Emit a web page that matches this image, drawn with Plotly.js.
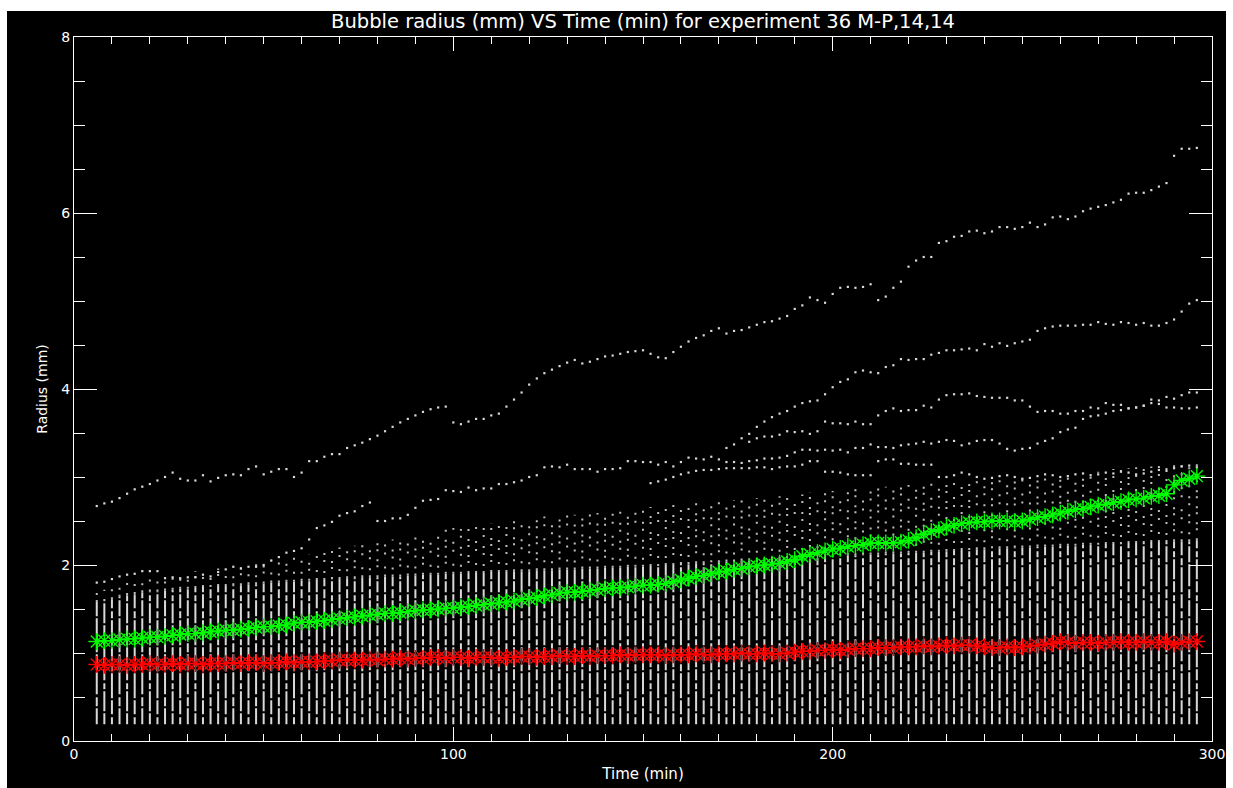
<!DOCTYPE html>
<html>
<head>
<meta charset="utf-8">
<script src="https://cdn.plot.ly/plotly-3.0.1.min.js"></script>
<style>
html,body{margin:0;padding:0;background:#ffffff;width:1233px;height:788px;overflow:hidden}
#chart{position:absolute;left:7px;top:11px;width:1219px;height:777px;background:#000}
</style>
</head>
<body>
<div id="chart"></div>
<script>
// ---- data ----
const times = [6,8,10,12,14,16,18,20,22,24,26,28,30,32,34,36,38,40,42,44,46,48,50,52,54,56,58,60,62,64,66,68,70,72,74,76,78,80,82,84,86,88,90,92,94,96,98,100,102,104,106,108,110,112,114,116,118,120,122,124,126,128,130,132,134,136,138,140,142,144,146,148,150,152,154,156,158,160,162,164,166,168,170,172,174,176,178,180,182,184,186,188,190,192,194,196,198,200,202,204,206,208,210,212,214,216,218,220,222,224,226,228,230,232,234,236,238,240,242,244,246,248,250,252,254,256,258,260,262,264,266,268,270,272,274,276,278,280,282,284,286,288,290,292,294,296];

const meanRadius = [
1.13,1.14,1.14,1.15,1.16,1.16,1.17,1.18,1.18,1.19,
1.20,1.21,1.22,1.22,1.23,1.24,1.25,1.26,1.26,1.27,
1.28,1.29,1.30,1.30,1.31,1.32,1.34,1.35,1.35,1.36,
1.37,1.38,1.39,1.40,1.41,1.42,1.43,1.44,1.45,1.45,
1.46,1.47,1.48,1.49,1.49,1.50,1.51,1.51,1.52,1.53,
1.54,1.55,1.56,1.57,1.58,1.59,1.61,1.62,1.63,1.65,
1.66,1.68,1.69,1.69,1.70,1.71,1.72,1.73,1.74,1.74,
1.75,1.76,1.77,1.77,1.78,1.79,1.81,1.83,1.85,1.87,
1.88,1.90,1.92,1.93,1.95,1.96,1.98,1.99,2.00,2.01,
2.02,2.04,2.06,2.10,2.12,2.14,2.16,2.18,2.19,2.21,
2.22,2.23,2.25,2.25,2.25,2.25,2.26,2.28,2.31,2.35,
2.38,2.40,2.43,2.45,2.47,2.48,2.49,2.49,2.50,2.50,
2.50,2.49,2.50,2.52,2.54,2.55,2.57,2.59,2.61,2.63,
2.64,2.66,2.68,2.69,2.71,2.72,2.74,2.75,2.76,2.78,
2.79,2.81,2.91,2.96,2.98,3.01];

const medianRadius = [
0.87,0.86,0.87,0.87,0.86,0.87,0.87,0.88,0.87,0.87,
0.88,0.87,0.88,0.88,0.87,0.88,0.88,0.88,0.89,0.88,
0.89,0.89,0.88,0.89,0.89,0.90,0.89,0.90,0.90,0.90,
0.91,0.91,0.92,0.92,0.92,0.92,0.93,0.92,0.93,0.93,
0.94,0.93,0.94,0.94,0.95,0.95,0.94,0.95,0.95,0.94,
0.95,0.95,0.95,0.94,0.95,0.95,0.96,0.96,0.95,0.96,
0.96,0.97,0.96,0.96,0.97,0.96,0.97,0.97,0.97,0.98,
0.97,0.98,0.98,0.98,0.98,0.97,0.98,0.98,0.98,0.99,
0.98,0.98,0.99,0.99,0.99,1.00,0.99,0.99,1.00,0.99,
0.99,1.00,1.01,1.02,1.02,1.03,1.03,1.04,1.03,1.04,
1.05,1.05,1.05,1.06,1.06,1.06,1.07,1.07,1.07,1.08,
1.07,1.08,1.09,1.08,1.09,1.09,1.08,1.07,1.06,1.06,
1.07,1.06,1.07,1.08,1.09,1.10,1.11,1.13,1.12,1.11,
1.12,1.12,1.11,1.12,1.12,1.13,1.12,1.12,1.13,1.12,
1.12,1.13,1.10,1.12,1.13,1.13];

// lowest measured radius in every time column
const columnFloor = 0.19;
// top of the dense part of each column
const columnTop = [
1.58,1.59,1.61,1.64,1.66,1.67,1.69,1.70,1.70,1.71,
1.72,1.73,1.73,1.74,1.75,1.75,1.76,1.76,1.77,1.77,
1.78,1.78,1.79,1.80,1.80,1.81,1.81,1.82,1.82,1.83,
1.83,1.84,1.84,1.85,1.85,1.86,1.86,1.86,1.87,1.87,
1.87,1.88,1.88,1.89,1.89,1.89,1.90,1.90,1.90,1.91,
1.91,1.91,1.92,1.92,1.92,1.93,1.93,1.93,1.94,1.94,
1.94,1.95,1.95,1.95,1.96,1.96,1.96,1.97,1.97,1.97,
1.98,1.98,1.98,1.99,1.99,2.00,2.00,2.01,2.01,2.02,
2.02,2.03,2.03,2.04,2.04,2.05,2.05,2.06,2.06,2.07,
2.07,2.08,2.08,2.09,2.09,2.10,2.10,2.10,2.11,2.11,
2.11,2.12,2.12,2.12,2.13,2.13,2.13,2.14,2.14,2.14,
2.15,2.15,2.16,2.16,2.17,2.17,2.18,2.18,2.19,2.19,
2.19,2.20,2.20,2.20,2.21,2.21,2.21,2.22,2.22,2.22,
2.23,2.23,2.23,2.24,2.24,2.24,2.25,2.25,2.25,2.26,
2.26,2.26,2.27,2.27,2.27,2.28];
// upper end of the sparse dots above each column
const columnSparseTop = [
1.70,1.72,1.74,1.78,1.80,1.84,1.83,1.86,1.88,1.87,
1.90,1.92,1.91,1.93,1.95,1.94,1.96,1.98,1.97,2.00,
2.02,2.01,2.04,2.06,2.05,2.08,2.10,2.09,2.12,2.15,
2.14,2.17,2.20,2.18,2.22,2.25,2.24,2.27,2.30,2.29,
2.32,2.34,2.33,2.36,2.38,2.37,2.40,2.42,2.41,2.44,
2.45,2.44,2.47,2.49,2.48,2.50,2.52,2.51,2.53,2.55,
2.54,2.56,2.58,2.57,2.59,2.60,2.59,2.61,2.63,2.62,
2.64,2.65,2.64,2.66,2.68,2.67,2.69,2.70,2.69,2.71,
2.72,2.71,2.73,2.75,2.74,2.76,2.77,2.76,2.78,2.79,
2.78,2.80,2.81,2.80,2.82,2.83,2.82,2.84,2.85,2.84,
2.86,2.87,2.86,2.88,2.89,2.88,2.90,2.91,2.90,2.92,
2.93,2.92,2.94,2.95,2.94,2.96,2.97,2.96,2.98,2.99,
2.98,3.00,3.01,3.00,3.02,3.03,3.02,3.04,3.05,3.04,
3.06,3.07,3.06,3.08,3.09,3.08,3.10,3.11,3.10,3.12,
3.13,3.12,3.14,3.15,3.14,3.16];

// individual large bubbles (tracks of dots), first time of each track given
const trackAStart = 6;
const trackA = [
2.67,2.70,2.72,2.76,2.81,2.86,2.89,2.92,2.96,3.00,
3.05,2.98,2.96,2.96,3.02,2.95,2.99,3.02,3.03,3.02,
3.09,3.12,3.03,3.06,3.09,3.09,3.00,3.05,3.18,3.18,
3.23,3.26,3.26,3.33,3.36,3.39,3.43,3.47,3.52,3.57,
3.62,3.66,3.70,3.74,3.77,3.79,3.80,3.62,3.60,3.63,
3.66,3.66,3.70,3.72,3.80,3.88,3.96,4.05,4.12,4.18,
4.22,4.26,4.30,4.33,4.29,4.31,4.34,4.37,4.38,4.40,
4.42,4.43,4.44,4.40,4.36,4.35,4.42,4.48,4.54,4.58,
4.61,4.66,4.69,4.63,4.66,4.67,4.70,4.73,4.76,4.77,
4.80,4.83,4.91,4.95,5.04,5.01,4.98,5.08,5.15,5.16,
5.15,5.16,5.19,5.01,5.05,5.15,5.22,5.39,5.46,5.50,
5.50,5.66,5.68,5.73,5.74,5.79,5.80,5.77,5.79,5.84,
5.84,5.82,5.84,5.89,5.84,5.87,5.95,5.96,5.93,5.96,
6.02,6.05,6.07,6.09,6.12,6.15,6.22,6.23,6.23,6.26,
6.30,6.34,6.65,6.73,6.73,6.74];
const trackB0Start = 6;
const trackB0 = [
1.80,1.81,1.84,1.87,1.89,1.90,1.93,1.93,1.93,1.85,
1.86,1.85,1.86,1.86,1.89,1.87,1.92,1.95,1.98,1.96,
1.98,1.98,2.00,2.05,2.09,2.14,2.16,2.19,2.29,2.42,
2.45,2.49,2.56,2.59,2.61,2.67,2.71];
const trackDStart = 80;
const trackD = [
2.50,2.50,2.53,2.53,2.57,2.65,2.73,2.74,2.75,2.85,
2.84,2.83,2.88,2.85,2.87,2.87,2.92,2.92,2.94,2.96,
3.00,3.02,3.11,3.12,3.11,3.14,3.09,3.09,3.09,3.06,
3.09,3.09,3.10,3.18,3.18,3.17,3.17,3.14,3.17,3.12,
3.17,3.22,3.21,3.20,3.23,3.20,3.17,3.17,3.16,3.18,
3.19,3.21,3.21,3.22,3.24,3.28,3.31,3.31,3.30,3.31,
3.30,3.31,3.28,3.33,3.33,3.37,3.34,3.34,3.33,3.36,
3.37,3.38,3.40,3.38,3.40,3.42,3.41,3.36,3.38,3.41,
3.42,3.42,3.38,3.32,3.30,3.32,3.33,3.38,3.41,3.44,
3.51,3.54,3.56,3.66,3.69,3.70,3.72,3.75,3.76,3.78,
3.79,3.81,3.88,3.87,3.91,3.89,3.93,3.96,3.96];
const trackBStart = 172;
const trackB = [
3.33,3.37,3.44,3.49,3.57,3.63,3.68,3.72,3.75,3.80,
3.84,3.86,3.87,3.94,4.02,4.08,4.11,4.19,4.21,4.19,
4.18,4.25,4.27,4.34,4.33,4.34,4.34,4.39,4.41,4.44,
4.44,4.45,4.46,4.44,4.51,4.48,4.52,4.49,4.52,4.54,
4.56,4.66,4.69,4.71,4.72,4.72,4.72,4.73,4.73,4.76,
4.74,4.73,4.76,4.75,4.73,4.75,4.72,4.72,4.75,4.79,
4.88,4.97,5.01];
const trackCStart = 178;
const trackC = [
3.40,3.44,3.46,3.46,3.48,3.52,3.51,
3.52,3.49,3.52,3.63,3.61,3.61,3.60,3.63,3.60,3.60,
3.70,3.75,3.78,3.75,3.76,3.76,3.81,3.79,3.88,3.93,
3.94,3.94,3.95,3.92,3.91,3.90,3.90,3.90,3.87,3.87,
3.80,3.74,3.75,3.75,3.72,3.72,3.75,3.75,3.79,3.78,
3.84,3.82,3.82,3.78,3.79,3.81,3.84,3.83,3.79,3.79,
3.78,3.78,3.79];
const trackEStart = 152;
const trackE = [
2.93,2.95,2.97,3.00,3.03,3.05,3.07,3.08,3.08,3.09,
3.10,3.10,3.10,3.10,3.11,3.11,3.09,3.11,3.12,3.12,
3.14,3.18,3.18,3.06,3.06,3.05,3.03,3.02,3.02,3.02,
3.18,3.20,3.20,3.15,3.15,3.14,3.14,3.14,3.00,3.00,
3.02,3.05,3.03,3.00];
const trackFStart = 240;
const trackF = [
2.98,2.99,3.01,3.02,3.00,2.98,2.99,3.01,3.03,3.02,
3.00,3.01,3.03,3.04,3.02,3.03,3.05,3.04,3.06,3.05,
3.03,3.04,3.06,3.08,3.07,3.10,3.12,3.13,3.11];

const titleText = 'Bubble radius (mm) VS Time (min) for experiment 36 M-P,14,14';
const xTitle = 'Time (min)';
const yTitle = 'Radius (mm)';

// ---- build traces ----
function trackTimes(start, vals){ const i = times.indexOf(start); return times.slice(i, i + vals.length); }

// three interleaved groups of columns, each with its own dash rhythm (style only)
const denseDash = ['16px,2px,9px,3px,22px,2px', '11px,2px,20px,2px,6px,3px', '7px,3px,14px,2px,25px,2px'];
const sparseDash = ['2px,5px,2px,9px', '2px,8px,2px,4px', '2px,6px,2px,12px'];
const colGroups = [0,1,2].map(() => ({cx: [], cy: [], sx: [], sy: []}));
times.forEach((t, i) => {
  const g = colGroups[i % 3];
  g.cx.push(t, t, null); g.cy.push(columnFloor, columnTop[i], null);
  g.sx.push(t, t, null); g.sy.push(columnTop[i], columnSparseTop[i], null);
});

const tracks = [[trackAStart,trackA],[trackB0Start,trackB0],[trackDStart,trackD],[trackBStart,trackB],[trackCStart,trackC],[trackEStart,trackE],[trackFStart,trackF]];
const dotX = [], dotY = [];
tracks.forEach(([s, v]) => { const tt = trackTimes(s, v); tt.forEach((t, k) => { dotX.push(t); dotY.push(v[k]); }); });

const dotColor = '#d8d8d8';
const traces = [];
colGroups.forEach((g, k) => {
  traces.push({x: g.cx, y: g.cy, mode: 'lines', line: {color: dotColor, width: 2, dash: denseDash[k]}, hoverinfo: 'skip', showlegend: false});
  traces.push({x: g.sx, y: g.sy, mode: 'lines', line: {color: '#bdbdbd', width: 2, dash: sparseDash[k]}, hoverinfo: 'skip', showlegend: false});
});
traces.push(
  {x: dotX, y: dotY, mode: 'markers', marker: {symbol: 'square', size: 2.2, color: dotColor, line: {width: 0}}, showlegend: false},
  {x: times, y: medianRadius, mode: 'lines+markers', line: {color: '#ff0000', width: 1},
   marker: {symbol: 'asterisk-open', size: 14, color: '#ff0000', line: {color: '#e00000', width: 1.4}}, showlegend: false},
  {x: times, y: meanRadius, mode: 'lines+markers', line: {color: '#00ff00', width: 1},
   marker: {symbol: 'asterisk-open', size: 14, color: '#00ff00', line: {color: '#00e000', width: 1.4}}, showlegend: false}
);

const fontFam = 'DejaVu Sans, sans-serif';
const axisCommon = {
  showgrid: false, zeroline: false, showline: true, linecolor: '#ffffff', linewidth: 1,
  mirror: 'allticks', ticks: 'inside', tickcolor: '#ffffff', tickwidth: 1,
  tickfont: {family: fontFam, size: 14, color: '#ffffff'}
};
const layout = {
  width: 1219, height: 777,
  paper_bgcolor: '#000000', plot_bgcolor: '#000000',
  margin: {l: 67, r: 14, t: 26, b: 47},
  title: {text: titleText, font: {family: fontFam, size: 19.5, color: '#ffffff'},
          x: 0.5, xref: 'paper', xanchor: 'center', y: 1 - 10/777, yanchor: 'middle'},
  xaxis: Object.assign({}, axisCommon, {
    range: [0, 300], tick0: 0, dtick: 100, ticklen: 14,
    minor: {ticks: 'inside', dtick: 10, ticklen: 7, tickcolor: '#ffffff', showgrid: false},
    title: {text: xTitle, font: {family: fontFam, size: 15, color: '#ffffff'}, standoff: 7}
  }),
  yaxis: Object.assign({}, axisCommon, {
    range: [0, 8], tick0: 0, dtick: 2, ticklen: 23,
    minor: {ticks: 'inside', dtick: 0.5, ticklen: 11, tickcolor: '#ffffff', showgrid: false},
    title: {text: yTitle, font: {family: fontFam, size: 14, color: '#ffffff'}, standoff: 10}
  }),
  showlegend: false
};
Plotly.newPlot('chart', traces, layout, {staticPlot: true, displayModeBar: false});
</script>
</body>
</html>
